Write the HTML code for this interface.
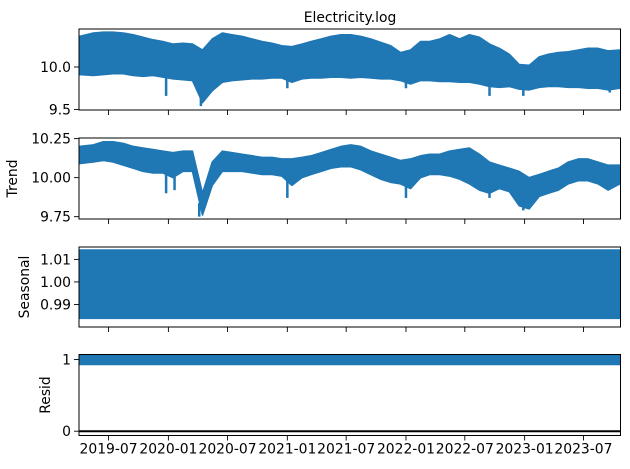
<!DOCTYPE html>
<html><head><meta charset="utf-8"><style>
body{margin:0;background:#fff}
svg{display:block;font-family:"DejaVu Sans","Liberation Sans",sans-serif}
</style></head><body>
<svg id="chart" width="630" height="469" viewBox="0 0 630 469" xmlns="http://www.w3.org/2000/svg">
<text x="350" y="22" font-size="13.9" text-anchor="middle">Electricity.log</text>
</svg>
<script>
const months = [];
for (let y = 2019, m = 4; !(y === 2023 && m === 11); ) { months.push(y + '-' + String(m).padStart(2,'0') + '-15'); m++; if (m > 12) { m = 1; y++; } }
const obsHi = [10.36,10.40,10.41,10.41,10.40,10.38,10.35,10.32,10.30,
10.27,10.28,10.27,10.20,10.33,10.40,10.38,10.36,10.33,10.30,10.28,10.25,
10.24,10.27,10.30,10.33,10.36,10.38,10.38,10.36,10.33,10.29,10.25,10.17,
10.20,10.30,10.30,10.33,10.38,10.33,10.38,10.35,10.27,10.22,10.15,10.03,
10.02,10.12,10.15,10.17,10.18,10.20,10.22,10.22,10.19,10.20];
const obsLo = [9.91,9.90,9.91,9.92,9.92,9.90,9.89,9.90,9.88,
9.86,9.85,9.84,9.58,9.72,9.82,9.84,9.85,9.86,9.86,9.87,9.87,
9.82,9.86,9.87,9.87,9.88,9.88,9.87,9.88,9.87,9.86,9.86,9.84,
9.80,9.84,9.84,9.83,9.83,9.82,9.82,9.80,9.77,9.76,9.77,9.74,
9.73,9.76,9.77,9.77,9.76,9.76,9.75,9.75,9.73,9.75];
const obsDipDates = ['2019-12-25','2020-04-10','2021-01-01','2022-01-01','2022-09-15','2022-12-28','2023-09-20'];
const obsDipValues = [9.66,9.54,9.75,9.75,9.66,9.66,9.70];
const trendHi = [10.20,10.21,10.23,10.23,10.22,10.20,10.19,10.18,10.17,
10.16,10.17,10.17,9.90,10.10,10.17,10.16,10.15,10.14,10.13,10.13,10.12,
10.12,10.13,10.14,10.16,10.18,10.20,10.21,10.20,10.17,10.15,10.13,10.11,
10.12,10.14,10.15,10.15,10.17,10.18,10.19,10.15,10.10,10.08,10.06,10.04,
10.00,10.02,10.04,10.06,10.10,10.12,10.12,10.10,10.08,10.08];
const trendLo = [10.09,10.10,10.11,10.10,10.08,10.06,10.04,10.03,10.03,
10.00,10.04,10.04,9.76,9.95,10.04,10.04,10.04,10.03,10.02,10.02,10.01,
9.95,10.00,10.02,10.04,10.06,10.07,10.07,10.05,10.02,9.99,9.97,9.96,
9.93,10.00,10.02,10.02,10.01,9.99,9.96,9.92,9.90,9.93,9.91,9.82,
9.80,9.88,9.90,9.92,9.96,9.98,9.98,9.96,9.92,9.96];
const trendDipDates = ['2019-12-25','2020-01-20','2020-04-05','2021-01-01','2022-01-01','2022-09-15','2022-12-28'];
const trendDipValues = [9.90,9.92,9.75,9.87,9.87,9.87,9.79];
const seasonalHi = 1.0145, seasonalLo = 0.9835;
const residHi = 1.07, residLo = 0.92;
const xTickLabels = ['2019-07','2020-01','2020-07','2021-01','2021-07','2022-01','2022-07','2023-01','2023-07'];
const obsTicks = ['10.0','9.5'];
const trendTicks = ['10.25','10.00','9.75'];
const seasonalTicks = ['1.01','1.00','0.99'];
const residTicks = ['1','0'];

const NS='http://www.w3.org/2000/svg', svg=document.getElementById('chart');
const C='#1f77b4';
const L=79, R=620.5;
const d0=Date.parse('2019-04-01'), d1=Date.parse('2023-10-23');
const X=d=>L+(Date.parse(d)-d0)/(d1-d0)*(R-L);
function el(t,a,p){const e=document.createElementNS(NS,t);for(const k in a)e.setAttribute(k,a[k]);(p||svg).appendChild(e);return e;}
const panels=[
 {name:'observed',top:29,bot:110,vmin:9.494,vmax:10.447,ticks:obsTicks,label:null},
 {name:'trend',top:138,bot:219,vmin:9.735,vmax:10.254,ticks:trendTicks,label:'Trend',lx:17},
 {name:'seasonal',top:247,bot:327,vmin:0.98,vmax:1.0155,ticks:seasonalTicks,label:'Seasonal',lx:29},
 {name:'resid',top:354.5,bot:435.5,vmin:-0.06,vmax:1.07,ticks:residTicks,label:'Resid',lx:50}
];
panels.forEach(p=>{p.Y=v=>p.bot-(v-p.vmin)/(p.vmax-p.vmin)*(p.bot-p.top);});
const n=months.length;
const XM=i=>i===0?L+0.5:(i===n-1?R-0.5:X(months[i]));
function band(p,hi,lo,name){
  let pts=months.map((d,i)=>XM(i)+','+p.Y(hi[i]));
  for(let i=n-1;i>=0;i--)pts.push(XM(i)+','+p.Y(lo[i]));
  const e=el('polygon',{points:pts.join(' '),fill:C,stroke:C,'stroke-width':1.5,'stroke-linejoin':'round'});
  
  
}
function dips(p,dates,vals,lo,name){
  dates.forEach((d,i)=>{
    const x=X(d);
    let j=0,best=1e18;months.forEach((m,k)=>{const dd=Math.abs(Date.parse(m)-Date.parse(d));if(dd<best){best=dd;j=k;}});
    const e=el('line',{x1:x,x2:x,y1:Math.min(p.Y(lo[j]),p.Y(vals[i]))-12,y2:p.Y(vals[i]),stroke:C,'stroke-width':2.5});
    
    
  });
}
const [po,pt,ps,pr]=panels;
band(po,obsHi,obsLo,'observed-series');
dips(po,obsDipDates,obsDipValues,obsLo,'observed-dip');
band(pt,trendHi,trendLo,'trend-series');
dips(pt,trendDipDates,trendDipValues,trendLo,'trend-dip');
let e=el('rect',{x:L,y:ps.Y(seasonalHi),width:R-L,height:ps.Y(seasonalLo)-ps.Y(seasonalHi),fill:C});

e=el('rect',{x:L,y:pr.Y(residHi),width:R-L,height:pr.Y(residLo)-pr.Y(residHi),fill:C});

e=el('line',{x1:L,x2:R,y1:pr.Y(0),y2:pr.Y(0),stroke:'#000','stroke-width':2});


panels.forEach((p,pi)=>{
  const f=el('rect',{x:L,y:p.top,width:R-L,height:p.bot-p.top,fill:'none',stroke:'#000','stroke-width':1});
  
  xTickLabels.forEach(t=>{
    const x=X(t+'-01');
    el('line',{x1:x,x2:x,y1:p.bot,y2:p.bot+5,stroke:'#000','stroke-width':0.9});
    if(pi===3){const tx=el('text',{x:x,y:p.bot+18,'font-size':13.9,'text-anchor':'middle'});tx.textContent=t;
      }
  });
  p.ticks.forEach(t=>{
    const y=p.Y(parseFloat(t));
    el('line',{x1:L-5,x2:L,y1:y,y2:y,stroke:'#000','stroke-width':0.9});
    const tx=el('text',{x:L-8,y:y+5,'font-size':13.9,'text-anchor':'end'});tx.textContent=t;
    
  });
  if(p.label){const cy=(p.top+p.bot)/2;
    const tx=el('text',{x:p.lx,y:cy,'font-size':13.9,'text-anchor':'middle',transform:`rotate(-90 ${p.lx} ${cy})`});
    tx.textContent=p.label;}
});
</script>
</body></html>
